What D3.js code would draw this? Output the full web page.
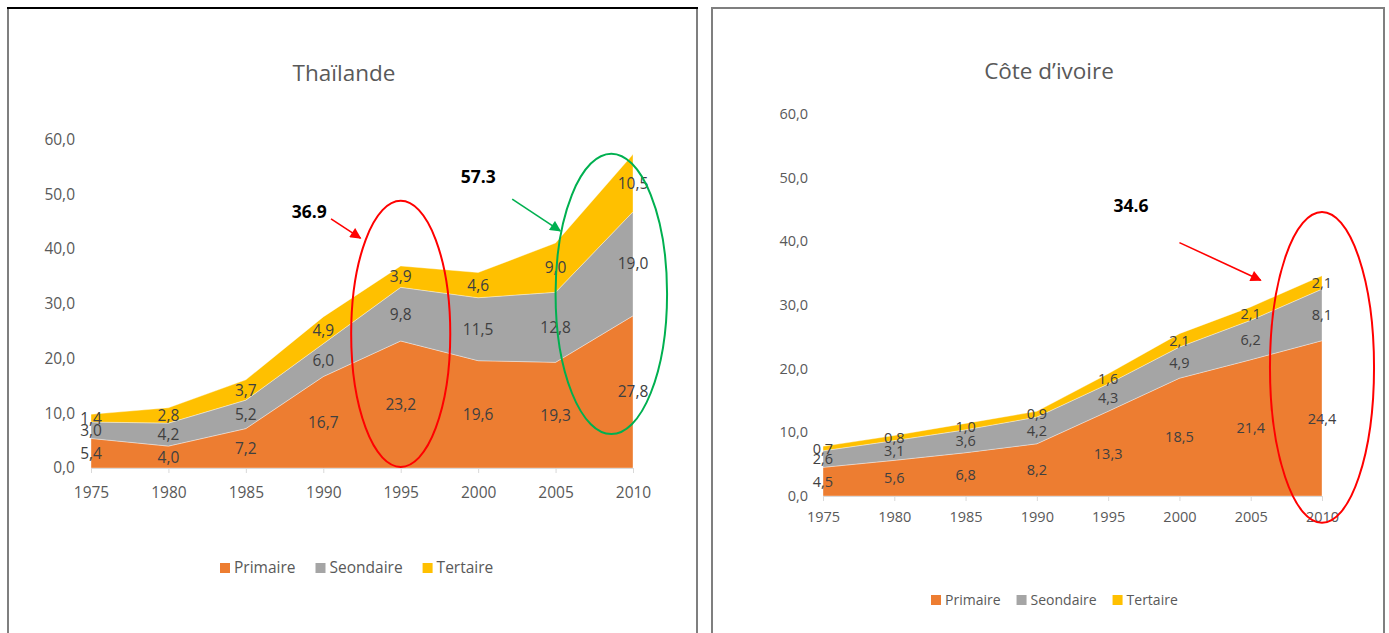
<!DOCTYPE html>
<html>
<head>
<meta charset="utf-8">
<script src="https://cdn.jsdelivr.net/npm/d3@7"></script>
<style>
  body { margin: 0; background: #fff; }
  svg text { font-family: "Open Sans", sans-serif; }
</style>
</head>
<body>
<svg id="chart" width="1389" height="633"></svg>
<script>
"use strict";

// ==========================
// data
// ==========================
var years = [1975, 1980, 1985, 1990, 1995, 2000, 2005, 2010];
var seriesNames = ["Primaire", "Seondaire", "Tertaire"];
var yTicks = [0, 10, 20, 30, 40, 50, 60];

var thaiPrimaire = [5.4, 4.0, 7.2, 16.7, 23.2, 19.6, 19.3, 27.8];
var thaiSecondaire = [3.0, 4.2, 5.2, 6.0, 9.8, 11.5, 12.8, 19.0];
var thaiTertiaire = [1.4, 2.8, 3.7, 4.9, 3.9, 4.6, 9.0, 10.5];

var civPrimaire = [4.5, 5.6, 6.8, 8.2, 13.3, 18.5, 21.4, 24.4];
var civSecondaire = [2.6, 3.1, 3.6, 4.2, 4.3, 4.9, 6.2, 8.1];
var civTertiaire = [0.7, 0.8, 1.0, 0.9, 1.6, 2.1, 2.1, 2.1];

// annotations (year, value)
var thaiNotes = [
  { text: "36.9", at: [1989.1, 46.8], from: [1990.5, 45.5], to: [1992.4, 42.0], color: "#ff0000",
    ellipse: { c: [1995, 24.5], r: [3.2, 24.3] } },
  { text: "57.3", at: [2000.0, 53.2], from: [2002.2, 49.1], to: [2005.3, 43.3], color: "#00b050",
    ellipse: { c: [2008.6, 31.8], r: [3.6, 25.6] } }
];
var civNotes = [
  { text: "34.6", at: [1996.6, 45.5], from: [2000.0, 39.8], to: [2005.7, 33.9], color: "#ff0000",
    ellipse: { c: [2010, 20.2], r: [3.65, 24.4] } }
];

var colors = { Primaire: "#ed7d31", Seondaire: "#a5a5a5", Tertaire: "#ffc000" };

var svg = d3.select("#chart");

var defs = svg.append("defs");
["#ff0000", "#00b050"].forEach(function (c) {
  defs.append("marker").attr("id", "arrow" + c.slice(1))
    .attr("viewBox", "0 0 10 10").attr("refX", 9).attr("refY", 5)
    .attr("markerWidth", 13).attr("markerHeight", 11).attr("orient", "auto")
    .attr("markerUnits", "userSpaceOnUse")
    .append("path").attr("d", "M0,0L10,5L0,10z").attr("fill", c);
});

// ==========================
// panel
// ==========================
function drawPanel(cfg) {
  var b = cfg.box;
  svg.append("rect")
    .attr("x", b[0]).attr("y", b[1])
    .attr("width", b[2]).attr("height", b[3])
    .attr("fill", "none").attr("stroke", "#7f7f7f").attr("stroke-width", 2);
  svg.append("line")
    .attr("x1", b[0] - 1).attr("x2", b[0] + b[2] + 1).attr("y1", b[1]).attr("y2", b[1])
    .attr("stroke", cfg.topStroke).attr("stroke-width", 2);

  var rows = years.map(function (y, i) {
    return { year: y, Primaire: cfg.p[i], Seondaire: cfg.s[i], Tertaire: cfg.t[i] };
  });
  var stacked = d3.stack().keys(seriesNames)(rows);

  var x = d3.scaleLinear().domain([1975, 2010]).range(cfg.xr);
  var y = d3.scaleLinear().domain([0, 60]).range(cfg.yr);

  var g = svg.append("g");

  var area = d3.area()
    .x(function (d) { return x(d.data.year); })
    .y0(function (d) { return y(d[0]); })
    .y1(function (d) { return y(d[1]); });

  g.selectAll(".area").data(stacked).enter().append("path")
    .attr("class", "area")
    .attr("d", area)
    .attr("fill", function (d) { return colors[d.key]; })
    .attr("stroke", "rgba(255,255,255,0.45)").attr("stroke-width", 0.8);

  // x axis
  var xAxis = g.append("g").attr("transform", "translate(0," + y(0) + ")")
    .call(d3.axisBottom(x).tickValues(years).tickFormat(d3.format("d")).tickSize(5).tickPadding(cfg.xPad));
  xAxis.select(".domain").attr("stroke", "#d9d9d9");
  xAxis.selectAll(".tick line").attr("stroke", "#d9d9d9");
  xAxis.selectAll("text").attr("fill", "#595959").style("font-size", cfg.fs + "px")
    .style("font-family", "'Open Sans', sans-serif");

  // y axis
  var yAxis = g.append("g").attr("transform", "translate(" + cfg.yLabelX + ",0)")
    .call(d3.axisLeft(y).tickValues(yTicks).tickSize(0).tickPadding(0)
      .tickFormat(function (d) { return d3.format(".1f")(d).replace(".", ","); }));
  yAxis.select(".domain").remove();
  yAxis.selectAll("text").attr("fill", "#595959").style("font-size", cfg.fs + "px")
    .style("font-family", "'Open Sans', sans-serif");

  // data labels
  stacked.forEach(function (layer) {
    g.selectAll(null).data(layer).enter().append("text")
      .attr("x", function (d) { return x(d.data.year); })
      .attr("y", function (d) { return y((d[0] + d[1]) / 2); })
      .attr("dy", "0.36em")
      .attr("text-anchor", "middle")
      .attr("fill", "#404040")
      .style("font-size", cfg.fs + "px")
      .text(function (d) { return d3.format(".1f")(d.data[layer.key]).replace(".", ","); });
  });

  // title
  svg.append("text").attr("x", cfg.title[1]).attr("y", cfg.title[2])
    .attr("text-anchor", "middle").attr("dy", "0.35em")
    .attr("fill", "#595959").style("font-size", "22.5px")
    .text(cfg.title[0]);

  // legend
  var lg = svg.append("g").attr("transform", "translate(" + cfg.legend[0] + "," + cfg.legend[1] + ")");
  var lx = 0;
  seriesNames.forEach(function (k) {
    lg.append("rect").attr("x", lx).attr("y", -5).attr("width", 10).attr("height", 10).attr("fill", colors[k]);
    var t = lg.append("text").attr("x", lx + 14).attr("y", 0).attr("dy", "0.35em")
      .attr("fill", "#595959").style("font-size", cfg.lfs + "px").text(k);
    lx += 14 + t.node().getComputedTextLength() + cfg.legendGap;
  });

  // annotations
  cfg.notes.forEach(function (n) {
    g.append("ellipse")
      .attr("cx", x(n.ellipse.c[0])).attr("cy", y(n.ellipse.c[1]))
      .attr("rx", x(n.ellipse.c[0] + n.ellipse.r[0]) - x(n.ellipse.c[0]))
      .attr("ry", y(0) - y(n.ellipse.r[1]))
      .attr("fill", "none").attr("stroke", n.color).attr("stroke-width", 2);
    g.append("line")
      .attr("x1", x(n.from[0])).attr("y1", y(n.from[1]))
      .attr("x2", x(n.to[0])).attr("y2", y(n.to[1]))
      .attr("stroke", n.color).attr("stroke-width", 1.6)
      .attr("marker-end", "url(#arrow" + n.color.slice(1) + ")");
    g.append("text")
      .attr("x", x(n.at[0])).attr("y", y(n.at[1])).attr("dy", "0.35em")
      .attr("text-anchor", "middle").attr("font-weight", "bold")
      .attr("fill", "#000").style("font-size", "17.5px").text(n.text);
  });
}

drawPanel({
  box: [8, 8, 689, 650], topStroke: "#000",
  p: thaiPrimaire, s: thaiSecondaire, t: thaiTertiaire,
  xr: [91, 633], yr: [468, 139.5], yLabelX: 75, fs: 15.5, lfs: 15.5, xPad: 14,
  title: ["Thaïlande", 344, 73],
  legend: [220, 568], legendGap: 20,
  notes: thaiNotes
});

drawPanel({
  box: [712, 8, 672, 650], topStroke: "#7f7f7f",
  p: civPrimaire, s: civSecondaire, t: civTertiaire,
  xr: [823, 1322], yr: [496, 114], yLabelX: 808, fs: 14.5, lfs: 14, xPad: 11,
  title: ["Côte d\u2019ivoire", 1049, 71],
  legend: [931, 600], legendGap: 16,
  notes: civNotes
});
</script>
</body>
</html>
